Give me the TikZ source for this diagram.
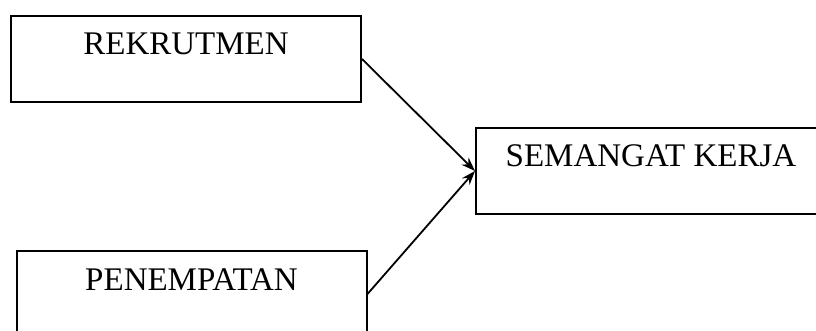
\documentclass[tikz,border=0pt]{standalone}
\usepackage{fontspec}
\setmainfont{Liberation Serif}
\usepackage{tikz}
\usetikzlibrary{arrows.meta,positioning}

\begin{document}
\begin{tikzpicture}[>={Stealth[length=14pt,width=10pt]},x=1pt,y=-1pt,font=\fontsize{33}{40}\selectfont]
\tikzstyle{box}=[draw,line width=2pt,anchor=north,minimum width=350pt,inner xsep=0pt,inner ysep=0pt,text height=39pt,text depth=47pt]
\fill[white] (0,0) rectangle (816,331);
\clip (0,0) rectangle (816,331);
\node[box] (rekrutmen) at (186,15) {REKRUTMEN};
\node[box] (penempatan) at (191.5,250) {PENEMPATAN};
\node[box] (semangat) at (651,127) {SEMANGAT KERJA};
\draw[->,line width=1.8pt] (rekrutmen.east) -- (semangat.west);
\draw[->,line width=1.8pt] (penempatan.east) -- (semangat.west);
\end{tikzpicture}
\end{document}
